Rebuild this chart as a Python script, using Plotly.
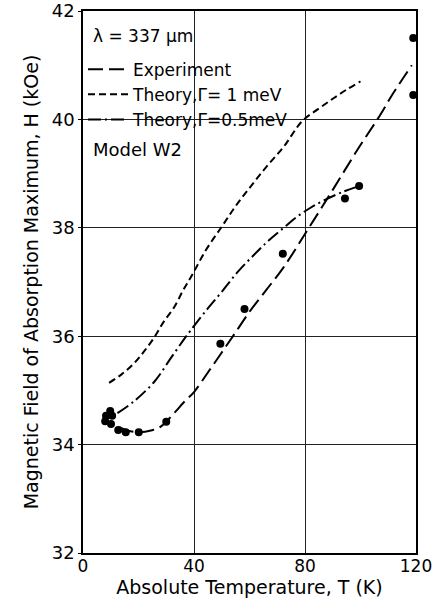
import plotly.graph_objects as go

# ---- data ----
dots_T = [9.8, 8.3, 10.5, 8.0, 10.1, 12.7, 15.4, 20.1, 30.0, 49.5, 58.2, 72.0, 94.4, 99.5, 119.0, 119.0]
dots_H = [34.62, 34.53, 34.53, 34.43, 34.38, 34.27, 34.23, 34.23, 34.42, 35.86, 36.50, 37.52, 38.54, 38.77, 41.50, 40.45]

exp_T = [13, 16, 20, 24.5, 28, 32.3, 36.5, 40, 45, 50, 54.3, 60, 66, 72.4, 81.4, 90, 98.9, 106.7, 112, 118.5]
exp_H = [34.32, 34.26, 34.23, 34.26, 34.33, 34.55, 34.79, 34.97, 35.33, 35.70, 36.02, 36.45, 36.85, 37.28, 38.00, 38.70, 39.44, 40.05, 40.50, 41.00]

g1_T = [9.4, 14, 18.4, 22, 25.7, 29, 32.9, 36, 39, 44.3, 50, 55, 60.4, 66, 72.4, 79, 85, 90, 95, 100]
g1_H = [35.14, 35.30, 35.50, 35.72, 35.98, 36.26, 36.54, 36.84, 37.10, 37.59, 38.02, 38.40, 38.76, 39.12, 39.50, 39.97, 40.20, 40.38, 40.55, 40.70]

g05_T = [12.4, 18.4, 25.7, 31.7, 36.5, 38.7, 44, 50, 56, 62, 67, 72.3, 77, 82, 87, 93, 99.5]
g05_H = [34.58, 34.80, 35.16, 35.60, 35.95, 36.10, 36.45, 36.82, 37.20, 37.52, 37.77, 38.00, 38.20, 38.37, 38.51, 38.65, 38.77]

x_ticks = [0, 40, 80, 120]
y_ticks = [32, 34, 36, 38, 40, 42]

FONT = "DejaVu Sans"

fig = go.Figure()
fig.add_trace(go.Scatter(x=exp_T, y=exp_H, mode="lines", name="Experiment",
                         line=dict(color="black", width=2, dash="15px,6px", shape="spline")))
fig.add_trace(go.Scatter(x=g1_T, y=g1_H, mode="lines", name="Theory,Γ= 1 meV",
                         line=dict(color="black", width=2, dash="7px,4px", shape="spline")))
fig.add_trace(go.Scatter(x=g05_T, y=g05_H, mode="lines", name="Theory,Γ=0.5meV",
                         line=dict(color="black", width=2, dash="13px,4px,2px,4px", shape="spline")))
fig.add_trace(go.Scatter(x=dots_T, y=dots_H, mode="markers", showlegend=False,
                         marker=dict(color="black", size=8), cliponaxis=False))

# white mask behind the legend block (interrupts grid lines as in the original)
fig.add_shape(type="rect", xref="paper", yref="paper", x0=0.004, x1=0.64, y0=0.728, y1=0.972,
              fillcolor="white", line=dict(width=0), layer="between")

fig.add_annotation(text="λ = 337 μm", xref="paper", yref="paper", x=0.025, y=0.953,
                   xanchor="left", yanchor="middle", showarrow=False,
                   font=dict(family=FONT, size=17, color="black"))
fig.add_annotation(text="Model W2", xref="paper", yref="paper", x=0.025, y=0.745,
                   xanchor="left", yanchor="middle", showarrow=False,
                   font=dict(family=FONT, size=18, color="black"))

fig.update_layout(
    width=438, height=602,
    margin=dict(l=83, r=22, t=11, b=49, autoexpand=False),
    paper_bgcolor="white", plot_bgcolor="white",
    font=dict(family=FONT, size=18, color="black"),
    showlegend=True,
    legend=dict(x=0.0, y=0.925, xanchor="left", yanchor="top", bgcolor="rgba(0,0,0,0)",
                font=dict(family=FONT, size=17, color="black"), itemwidth=40,
                tracegroupgap=0),
    xaxis=dict(range=[0, 120], tickvals=x_ticks, showgrid=True, gridcolor="#222", gridwidth=1,
               showline=True, linecolor="black", linewidth=1.5, mirror=True, ticks="",
               tickfont=dict(family=FONT, size=17), automargin=False, ticklabelstandoff=-3,
               zeroline=False, title=dict(text="Absolute Temperature, T (K)", standoff=1,
                                          font=dict(family=FONT, size=19))),
    yaxis=dict(range=[32, 42], tickvals=y_ticks, showgrid=True, gridcolor="#222", gridwidth=1,
               showline=True, linecolor="black", linewidth=1.5, mirror=True, ticks="outside",
               ticklen=3, tickcolor="black", zeroline=False, automargin=False,
               tickfont=dict(family=FONT, size=18),
               title=dict(text="Magnetic Field of Absorption Maximum, H (kOe)", standoff=8,
                          font=dict(family=FONT, size=19))),
)

fig.write_html("out.html")
